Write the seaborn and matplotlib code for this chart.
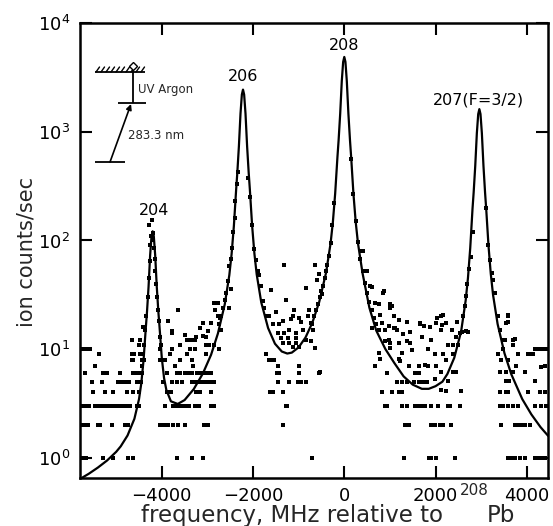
import matplotlib
matplotlib.use("Agg")
import matplotlib.pyplot as plt
import pandas as pd
import seaborn as sns
from matplotlib.ticker import NullLocator

# ---------------- data ----------------
# fitted curve (frequency in MHz, ion counts/sec)
curve_x = [-5792, -5600, -5400, -5200, -5000, -4900, -4750, -4600, -4500, -4450, -4400,
           -4350, -4325, -4290, -4255, -4225, -4200, -4175, -4145, -4110, -4075, -4050,
           -4000, -3950, -3900, -3800, -3650, -3500, -3300, -3100, -2920, -2770, -2620,
           -2520, -2470, -2420, -2370, -2345, -2310, -2275, -2245, -2220, -2195, -2165,
           -2130, -2095, -2070, -2020, -1970, -1920, -1820, -1670, -1520, -1370, -1250,
           -1150, -1000, -850, -700, -550, -400, -300, -250, -200, -150, -125, -90, -55,
           -25, 0, 25, 55, 90, 125, 150, 200, 250, 300, 400, 550, 700, 900, 1100, 1300,
           1500, 1700, 1850, 2000, 2150, 2260, 2410, 2560, 2660, 2710, 2760, 2810, 2835,
           2870, 2905, 2935, 2960, 2985, 3015, 3050, 3085, 3110, 3160, 3210, 3260, 3360,
           3510, 3660, 3900, 4100, 4300, 4471]
curve_y = [0.636, 0.71, 0.81, 0.94, 1.13, 1.27, 1.60, 2.28, 3.44, 4.8, 7.85,
           15.7, 21.7, 37.4, 73.4, 109.4, 121.5, 109.5, 73.5, 37.6, 22.0, 16.1,
           8.3, 5.4, 4.2, 3.3, 3.12, 3.39, 4.27, 5.95, 8.85, 13.9, 25.8,
           47.9, 74.9, 136, 295.5, 418, 736.5, 1471.5, 2206.5, 2451.5, 2206.5, 1471.7,
           736.7, 418.2, 295.7, 136.6, 75.6, 48.8, 26.9, 15.6, 11.2, 9.49, 9.09,
           9.27, 10.37, 12.77, 17.5, 27.1, 50.4, 94.4, 148.2, 270.7, 589, 834, 1471, 2941,
           4411, 4901, 4411, 2941, 1471, 834, 589, 270.7, 148, 94.1, 49.9, 24.0, 14.8, 10.0, 7.4, 5.6,
           4.7, 4.3, 4.3, 4.55, 5.0, 5.9, 8.3, 14.5, 28.0, 45.0, 85.0, 195.5, 276.5,
           487, 973, 1459, 1621, 1459, 973, 487, 276.5, 195.5, 90.0, 49.5, 31.6, 17.0,
           9.16, 5.86, 3.46, 2.50, 1.91, 1.58]

# measured points (frequency, counts/sec), grouped by region
dots_far_left = [
    (-5740, 10), (-5700, 10), (-5660, 10), (-5620, 10), (-5580, 10), (-5376, 9), (-5460, 7),
    (-5683, 6), (-5281, 6), (-5208, 6), (-4915, 6), (-4623, 6), (-4570, 6), (-4513, 6), (-4440, 6),
    (-5536, 5), (-5317, 5), (-4952, 5), (-4879, 5), (-4806, 5), (-4711, 5), (-4550, 5), (-4462, 5),
    (-5500, 4), (-5244, 4), (-5062, 4), (-4769, 4), (-4623, 4), (-4491, 4),
    (-5719, 3), (-5661, 3), (-5602, 3), (-5463, 3), (-5412, 3), (-5354, 3), (-5295, 3), (-5193, 3),
    (-5149, 3), (-5098, 3), (-5047, 3), (-4989, 3), (-4937, 3), (-4886, 3), (-4835, 3), (-4769, 3),
    (-4696, 3), (-4535, 3), (-4491, 3),
    (-5719, 2), (-5646, 2), (-5610, 2), (-5390, 2), (-5354, 2), (-5098, 2), (-4806, 2), (-4733, 2),
    (-5756, 1), (-5705, 1), (-5661, 1), (-5281, 1), (-5062, 1), (-4733, 1), (-4623, 1),
    (-4660, 12), (-4477, 12), (-4500, 11), (-4645, 9), (-4610, 9), (-4477, 9), (-4440, 9),
    (-4660, 8), (-4623, 8), (-4440, 8), (-4440, 7), (-4418, 15.8)]
dots_204 = [
    (-4400, 8), (-4385, 11), (-4360, 15), (-4335, 20), (-4305, 30), (-4283, 45), (-4265, 65),
    (-4250, 90), (-4238, 110), (-4273, 140), (-4214, 154), (-4200, 118), (-4185, 100),
    (-4170, 85), (-4158, 68), (-4140, 52), (-4120, 40), (-4100, 30), (-4082, 23), (-4062, 18),
    (-4045, 13), (-4025, 11), (-4005, 8)]
dots_valley_1 = [
    (-3783, 14), (-3455, 12), (-3382, 12), (-3309, 12), (-3272, 12), (-3601, 11),
    (-4039, 10), (-3783, 10), (-3382, 10), (-3272, 10), (-3820, 9), (-3455, 9),
    (-4039, 8), (-3980, 8), (-3929, 8), (-3601, 8), (-3345, 8), (-3710, 7), (-3309, 7),
    (-3878, 6), (-3674, 6), (-3601, 6), (-3491, 6), (-3382, 6),
    (-3966, 5), (-3783, 5), (-3674, 5), (-3564, 5), (-3345, 5), (-3236, 5), (-3893, 4), (-3805, 4),
    (-3929, 3), (-3747, 3), (-3689, 3), (-3630, 3), (-3528, 3), (-3469, 3), (-3411, 3), (-3272, 3),
    (-4039, 2), (-3980, 2), (-3922, 2), (-3856, 2), (-3747, 2), (-3637, 2), (-3491, 2),
    (-3674, 1), (-3345, 1),
    (-3640, 23), (-3860, 18), (-3780, 14.6), (-3491, 13.5), (-3344, 12), (-3162, 15.7), (-3090, 13.3),
    (-2702, 15), (-3250, 13), (-3031, 13), (-3031, 11), (-2958, 11), (-2848, 11), (-2739, 10),
    (-3031, 9), (-2994, 6), (-2921, 6),
    (-3250, 5), (-3200, 5), (-3150, 5), (-3100, 5), (-3050, 5), (-2995, 5), (-2940, 5), (-2885, 5),
    (-2848, 5), (-3250, 4), (-3177, 4), (-2921, 4), (-3160, 4), (-3213, 3), (-2921, 3), (-2848, 3),
    (-3180, 3), (-3067, 2), (-2994, 2), (-3090, 1), (-3340, 1),
    (-3454, 6), (-3344, 6), (-3235, 6), (-3162, 6), (-3074, 6),
    (-2980, 14.6), (-2834, 23), (-2761, 26.6), (-2724, 19.3), (-2855, 26.6), (-2775, 20),
    (-2921, 17.4), (-3103, 17.4), (-2520, 23.9), (-2483, 35.4)]
dots_206 = [
    (-2739, 17), (-2700, 20), (-2660, 24), (-2620, 28), (-2590, 33), (-2555, 42), (-2520, 58),
    (-2490, 68), (-2460, 85), (-2430, 120), (-2405, 160), (-2385, 230), (-2360, 330), (-2340, 430),
    (-2100, 380), (-2060, 250), (-2020, 140), (-1972, 83), (-1935, 66), (-1900, 52), (-1862, 48.5),
    (-1830, 38), (-1789, 27.5), (-1750, 24), (-1700, 20)]
dots_valley_2 = [
    (-1650, 20), (-1606, 35), (-1497, 22), (-1278, 28.5), (-1321, 58.8), (-839, 36.6), (-1095, 23),
    (-1132, 20), (-767, 23), (-949, 17.7), (-1570, 17), (-1424, 17), (-1351, 18), (-1168, 19),
    (-986, 19.5), (-803, 20), (-730, 17.4),
    (-1461, 14.1), (-1315, 14.1), (-1205, 15), (-1059, 14.1), (-913, 15), (-1388, 12.7),
    (-1242, 12.7), (-1059, 12.7), (-840, 12.2), (-1351, 11.4), (-1205, 11.4), (-1059, 11.4),
    (-730, 11.9), (-694, 15), (-1132, 10.5), (-986, 10.5),
    (-1716, 9), (-1643, 8), (-1534, 8), (-1461, 7), (-986, 7), (-1439, 6), (-986, 6),
    (-1461, 5), (-1205, 5), (-1022, 5), (-949, 5), (-840, 5), (-1555, 4), (-1337, 4),
    (-1278, 3), (-1351, 2), (-1628, 8), (-1480, 6), (-1626, 4), (-1262, 3),
    (-533, 6.2), (-635, 10.2), (-562, 6.0), (-708, 1)]
dots_208 = [
    (-700, 17), (-660, 20), (-620, 23), (-580, 26), (-540, 30), (-500, 34), (-470, 38),
    (-430, 45), (-400, 52), (-370, 60), (-340, 72), (-300, 95), (-260, 140), (-220, 220),
    (-635, 60), (-562, 48.6), (-598, 43.6), (-489, 32),
    (150, 560), (200, 270), (250, 150), (300, 96), (350, 68), (400, 52), (450, 41), (500, 33),
    (550, 27), (600, 23), (650, 19.5), (700, 17), (403, 80), (388, 80), (498, 52)]
dots_valley_3 = [
    (571, 37.9), (607, 37), (862, 34), (680, 26.7), (753, 25.8), (1008, 24), (1045, 25),
    (1081, 20), (1191, 18.7), (789, 20.6), (826, 17.4), (972, 16.2), (1118, 15.5), (1666, 17.4),
    (1739, 16.2), (855, 33), (1001, 26), (1367, 17.7), (1659, 17), (891, 15), (1147, 15),
    (1294, 13.9), (1440, 14.5), (1695, 13),
    (607, 15.5), (753, 15), (1081, 15.5), (972, 12.2), (899, 11.8), (1008, 11.4), (1191, 11.4),
    (1373, 11.8), (1483, 9.8), (1446, 11.4), (1264, 9.1), (753, 9.1), (789, 8.1), (1008, 10.2),
    (1191, 8.1), (1227, 7.7), (1410, 7.0), (1629, 7.0), (1775, 7.2), (680, 7.0), (935, 6.0),
    (1556, 6.0), (1629, 6.0), (1154, 5), (1264, 5), (1373, 5), (1519, 5), (1629, 5), (1702, 5),
    (1775, 5), (1812, 5), (826, 4), (1045, 4), (1191, 4), (1264, 4), (899, 3), (935, 3),
    (1264, 3), (1373, 3), (1556, 3), (1614, 3), (1666, 3), (1739, 3), (1775, 3), (1337, 2),
    (1410, 2), (1300, 1), (1848, 1),
    (1878, 16), (2025, 19.5), (2134, 16.5), (2171, 20.7), (2353, 15), (2463, 17.7), (2718, 14.5),
    (2572, 14.5), (2126, 20), (2016, 17.4), (2236, 17.4),
    (1907, 12), (2127, 15), (2273, 11), (2383, 11), (2492, 11), (2456, 13), (2529, 14),
    (2674, 14.7), (1834, 10), (1980, 9), (2163, 9), (2236, 8), (2383, 9), (1834, 7), (2017, 7),
    (2127, 6.2), (2383, 6.2), (2456, 6.2), (1980, 5.3), (2273, 5.1), (2127, 4.2), (2236, 4.1),
    (2565, 4.1), (1907, 3), (2053, 3), (2273, 3), (2310, 3), (2529, 3), (1907, 2), (1980, 2),
    (2090, 2), (2163, 2), (2346, 2), (1907, 1), (2017, 1), (2419, 1)]
dots_207 = [
    (2600, 20), (2640, 25), (2674, 31), (2700, 40), (2740, 55), (2780, 70), (2820, 120),
    (3100, 200), (3150, 90), (3187, 66.6), (3230, 50), (3259, 43.6), (3300, 33), (3368, 20),
    (3420, 15), (3470, 12),
    (3514, 12), (3697, 11), (3733, 12.5), (3806, 9), (4026, 9), (4062, 9), (4135, 9),
    (4172, 10), (4220, 10), (4270, 10), (4320, 10), (4370, 10), (4420, 10), (3368, 9),
    (3441, 8), (3587, 8), (3770, 7), (3405, 6.2), (3550, 6.2), (3697, 6.2), (3952, 6.2),
    (4172, 5.1), (3550, 5.1), (3620, 5.1), (4318, 6.8), (4391, 7), (3405, 4), (3550, 4),
    (3587, 4), (4026, 4), (4282, 4), (4391, 4),
    (3405, 3), (3478, 3), (3587, 3), (3697, 3), (3806, 3), (4172, 3), (4318, 3), (4428, 3),
    (3441, 2), (3733, 2), (3806, 2), (3879, 2), (3952, 2), (4062, 2),
    (3587, 1), (3660, 1), (3733, 1), (3843, 1), (3952, 1), (4172, 1), (4245, 1), (4320, 1), (4400, 1),
    (3594, 20.7), (3594, 17.7), (3484, 10), (3704, 12), (3588, 20), (3550, 17.4)]

peak_labels = ["204", "206", "208", "207(F=3/2)"]
peak_label_x = [-4170, -2220, 0, 2950]
peak_label_y = [190, 3240, 6300, 1950]

x_ticks = [-4000, -2000, 0, 2000, 4000]
y_ticks = [1, 10, 100, 1000, 10000]
y_tick_labels = [r"$10^{0}$", r"$10^{1}$", r"$10^{2}$", r"$10^{3}$", r"$10^{4}$"]

# ---------------- plotting ----------------
sns.set_style("ticks")
plt.rcParams['font.family'] = ['DejaVu Sans']
plt.rcParams['mathtext.fontset'] = 'dejavusans'

all_dots = (dots_far_left + dots_204 + dots_valley_1 + dots_206 + dots_valley_2
            + dots_208 + dots_valley_3 + dots_207)
dots = pd.DataFrame(all_dots, columns=["freq", "counts"])
curve = pd.DataFrame({"freq": curve_x, "counts": curve_y})

fig = plt.figure(figsize=(5.53, 5.26), dpi=100)
ax = fig.add_axes([0.1447, 0.0907, 0.8468, 0.865])

sns.scatterplot(data=dots, x="freq", y="counts", ax=ax, color="black",
                marker="s", s=6, linewidth=0, legend=False)
sns.lineplot(data=curve, x="freq", y="counts", ax=ax, color="black",
             linewidth=1.6, sort=False, estimator=None)

ax.set_yscale("log")
ax.set_xlim(-5792, 4471)
ax.set_ylim(0.645, 1e4)
ax.set_xticks(x_ticks)
ax.set_yticks(y_ticks)
ax.set_yticklabels(y_tick_labels)
ax.yaxis.set_minor_locator(NullLocator())
ax.xaxis.set_minor_locator(NullLocator())
ax.tick_params(direction="in", length=8.5, width=1.5, top=True, right=True,
               labelsize=13, colors="black")
ax.tick_params(axis="x", pad=6)
ax.tick_params(axis="y", pad=7)
for sp in ax.spines.values():
    sp.set_linewidth(1.8)
    sp.set_color("black")

tr = ax.transAxes
def fx(px):
    return (px - 80) / 468.3
def fy(py):
    return (478.3 - py) / 455.0

# x label: main words, then the raised mass number and element symbol
ax.set_xlabel("frequency, MHz relative to", fontsize=16.5)
ax.xaxis.set_label_coords(fx(443), fy(522))
ax.xaxis.label.set_ha("right")
ax.xaxis.label.set_va("baseline")
ax.text(fx(460), fy(495), "208", transform=tr, fontsize=11, ha="left", va="baseline")
ax.text(fx(487), fy(522), "Pb", transform=tr, fontsize=16.5, ha="left", va="baseline",
        clip_on=False)

ax.set_ylabel("ion counts/sec", fontsize=15)
ax.yaxis.set_label_coords(-0.092, 0.497)

for lab, lx, ly in zip(peak_labels, peak_label_x, peak_label_y):
    ax.text(lx, ly, lab, ha="center", va="center", fontsize=11.5, color="black")

# level-scheme inset (axes-fraction coordinates from pixel positions)
lk = dict(transform=tr, color="black", lw=1.3, solid_capstyle="butt")
ax.plot([fx(95), fx(145)], [fy(72), fy(72)], **lk)
for hx in range(96, 145, 5):
    ax.plot([fx(hx), fx(hx + 3.5)], [fy(72), fy(67)], transform=tr, color="black", lw=1.0)
ax.plot([fx(133), fx(133)], [fy(103), fy(66)], **lk)
ax.plot([fx(133)], [fy(66)], transform=tr, marker="D", ms=4.5, mfc="white",
        mec="black", mew=1.0)
ax.plot([fx(118), fx(146)], [fy(103), fy(103)], **lk)
ax.plot([fx(95), fx(125)], [fy(162), fy(162)], **lk)
ax.annotate("", xy=(fx(131), fy(104)), xytext=(fx(110), fy(162)), xycoords=tr,
            textcoords=tr, arrowprops=dict(arrowstyle="-|>", color="black", lw=1.2,
                                           mutation_scale=8, shrinkA=0, shrinkB=0))
ax.text(fx(138), fy(89), "UV Argon", transform=tr, fontsize=8.5, ha="left", va="center")
ax.text(fx(128), fy(136), "283.3 nm", transform=tr, fontsize=8.5, ha="left", va="center")

fig.savefig("out.png", dpi=100)
